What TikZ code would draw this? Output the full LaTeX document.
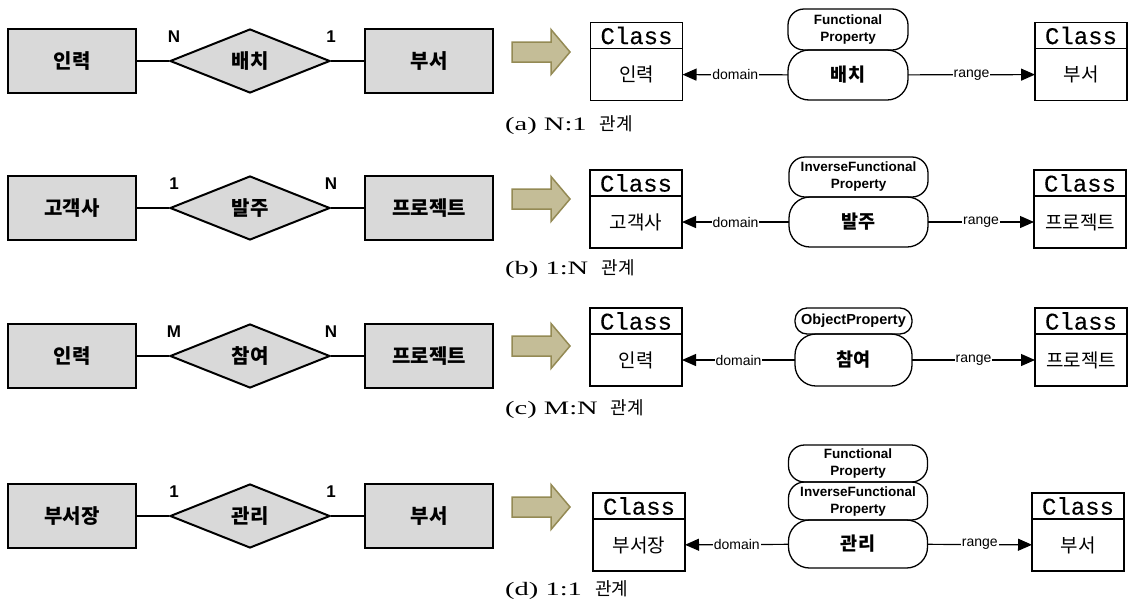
\documentclass[tikz,border=0pt]{standalone}
\usepackage{fontspec}
\setmainfont{Liberation Serif}
\newfontfamily\krfont{Noto Sans CJK KR}
\newfontfamily\arialfont{Liberation Sans}
\newfontfamily\classfont[FakeBold=0.25]{Liberation Mono}
\newfontfamily\capfont[FakeStretch=1.5]{Liberation Serif}
\usepackage{tikz}
\usetikzlibrary{positioning,shapes.geometric,arrows.meta}
\definecolor{ergray}{RGB}{217,217,217}
\definecolor{arrowfill}{RGB}{196,189,151}
\definecolor{arrowline}{RGB}{148,138,84}

\begin{document}
\begin{tikzpicture}[x=1pt, y=-1pt,
        entity/.style={draw, line width=2pt, fill=ergray, minimum width=128pt, minimum height=64pt, inner sep=0pt, font=\krfont\bfseries\fontsize{20}{24}\selectfont},
        relship/.style={diamond, draw, line width=2pt, fill=ergray, aspect=2.5, minimum width=160pt, minimum height=64pt, inner sep=0pt, font=\krfont\bfseries\fontsize{20}{24}\selectfont},
        card/.style={inner sep=0pt, font=\arialfont\bfseries\fontsize{17}{17}\selectfont},
        erline/.style={line width=2pt},
        bigarrow/.style={fill=arrowfill, draw=arrowline, line width=1.5pt},
        clshead/.style={draw, line width=1.3pt, outer sep=0pt, minimum width=92pt, minimum height=26pt, inner sep=0pt, font=\classfont\fontsize{24}{24}\selectfont},
        clsbody/.style={draw, line width=1.3pt, outer sep=0pt, minimum width=92pt, minimum height=52pt, inner sep=0pt, font=\krfont\fontsize{19}{20}\selectfont},
        prop/.style={draw, rounded corners=21pt, line width=1.3pt, outer sep=0pt, minimum height=50pt, inner sep=0pt, font=\krfont\bfseries\fontsize{18.5}{20}\selectfont},
        proptype/.style={draw, rounded corners=16pt, line width=1.3pt, outer sep=0pt, inner sep=0pt, align=center, font=\arialfont\bfseries\fontsize{13.5}{17}\selectfont},
        link/.style={line width=1.2pt, -{Triangle[length=14pt,width=12pt]}},
        role/.style={fill=white, inner sep=1pt, font=\arialfont\fontsize{14}{14}\selectfont},
        caption/.style={anchor=west, inner sep=0pt, font=\capfont\fontsize{19}{19}\selectfont}]
        \useasboundingbox (0,0) rectangle (1131,603);

        % (a) N:1
        \node[entity] (inA) at (72,61) {인력};
        \node[relship] (baechi) at (250,61) {배치};
        \node[entity] (buA) at (429,61) {부서};
        \draw[erline] (inA) -- (baechi) -- (buA);
        \node[card] (cardA1) at ([xshift=5pt,yshift=24pt]baechi.west) {N};
        \node[card] (cardA2) at ([yshift=24pt]baechi.east) {1};
        \draw[bigarrow] (512,42) -- (551,42) -- (551,29.5) -- (570,52) -- (551,74.5) -- (551,62) -- (512,62) -- cycle;
        \node[clsbody] (clsInA) at (636.5,74.5) {인력};
        \node[clshead, above=0pt of clsInA] (hdInA) {Class};
        \node[prop, minimum width=120pt] (pBaechi) at (848,75) {배치};
        \node[proptype, minimum width=120pt, minimum height=41pt, above=0pt of pBaechi] (tBaechi) {Functional\\Property};
        \node[clsbody] (clsBuA) at (1081,74.5) {부서};
        \node[clshead, above=0pt of clsBuA] (hdBuA) {Class};
        \draw[link] (pBaechi) -- node[role] {domain} (clsInA);
        \draw[link] (pBaechi) -- node[role] {range} (clsBuA);
        \node[caption] (capA) at (505,125) {(a) N:1\hspace{6pt} {\krfont\fontsize{18}{18}\selectfont 관계}};

        % (b) 1:N
        \node[entity] (gogaek) at (72,208) {고객사};
        \node[relship] (balju) at (250,208) {발주};
        \node[entity] (projB) at (429,208) {프로젝트};
        \draw[erline] (gogaek) -- (balju) -- (projB);
        \node[card] (cardB1) at ([xshift=5pt,yshift=24pt]balju.west) {1};
        \node[card] (cardB2) at ([yshift=24pt]balju.east) {N};
        \draw[bigarrow] (512,189) -- (551,189) -- (551,176.5) -- (570,199) -- (551,221.5) -- (551,209) -- (512,209) -- cycle;
        \node[clsbody] (clsGogaek) at (636,222) {고객사};
        \node[clshead, above=0pt of clsGogaek] (hdGogaek) {Class};
        \node[prop, minimum width=139pt] (pBalju) at (858.5,222) {발주};
        \node[proptype, minimum width=139pt, minimum height=40pt, above=0pt of pBalju] (tBalju) {InverseFunctional\\Property};
        \node[clsbody] (clsProjB) at (1080,222) {프로젝트};
        \node[clshead, above=0pt of clsProjB] (hdProjB) {Class};
        \draw[link] (pBalju) -- node[role] {domain} (clsGogaek);
        \draw[link] (pBalju) -- node[role] {range} (clsProjB);
        \node[caption] (capB) at (505,269) {(b) 1:N\hspace{6pt} {\krfont\fontsize{18}{18}\selectfont 관계}};

        % (c) M:N
        \node[entity] (inC) at (72,356) {인력};
        \node[relship] (chamyeo) at (250,356) {참여};
        \node[entity] (projC) at (429,356) {프로젝트};
        \draw[erline] (inC) -- (chamyeo) -- (projC);
        \node[card] (cardC1) at ([xshift=5pt,yshift=24pt]chamyeo.west) {M};
        \node[card] (cardC2) at ([yshift=24pt]chamyeo.east) {N};
        \draw[bigarrow] (512,336) -- (551,336) -- (551,323.5) -- (570,346) -- (551,368.5) -- (551,356) -- (512,356) -- cycle;
        \node[clsbody] (clsInC) at (636,360) {인력};
        \node[clshead, above=0pt of clsInC] (hdInC) {Class};
        \node[prop, minimum width=117pt, minimum height=52pt] (pChamyeo) at (853.5,360) {참여};
        \node[proptype, rounded corners=12pt, minimum width=117pt, minimum height=26pt, above=0pt of pChamyeo, font=\arialfont\bfseries\fontsize{14.5}{17}\selectfont] (tChamyeo) {ObjectProperty};
        \node[clsbody] (clsProjC) at (1081,360) {프로젝트};
        \node[clshead, above=0pt of clsProjC] (hdProjC) {Class};
        \draw[link] (pChamyeo) -- node[role] {domain} (clsInC);
        \draw[link] (pChamyeo) -- node[role] {range} (clsProjC);
        \node[caption] (capC) at (505,409) {(c) M:N\hspace{6pt} {\krfont\fontsize{18}{18}\selectfont 관계}};

        % (d) 1:1
        \node[entity] (bujang) at (72,516) {부서장};
        \node[relship] (gwanri) at (250,516) {관리};
        \node[entity] (buD) at (429,516) {부서};
        \draw[erline] (bujang) -- (gwanri) -- (buD);
        \node[card] (cardD1) at ([xshift=5pt,yshift=24pt]gwanri.west) {1};
        \node[card] (cardD2) at ([yshift=24pt]gwanri.east) {1};
        \draw[bigarrow] (512,497) -- (551,497) -- (551,484.5) -- (570,507) -- (551,529.5) -- (551,517) -- (512,517) -- cycle;
        \node[clsbody] (clsBujang) at (639,545) {부서장};
        \node[clshead, above=0pt of clsBujang] (hdBujang) {Class};
        \node[prop, minimum width=139pt, minimum height=48pt] (pGwanri) at (858,544) {관리};
        \node[proptype, minimum width=139pt, minimum height=38pt, above=0pt of pGwanri] (tGwanriInv) {InverseFunctional\\Property};
        \node[proptype, minimum width=139pt, minimum height=37pt, above=0pt of tGwanriInv] (tGwanriFn) {Functional\\Property};
        \node[clsbody] (clsBuD) at (1078,545) {부서};
        \node[clshead, above=0pt of clsBuD] (hdBuD) {Class};
        \draw[link] (pGwanri) -- node[role] {domain} (clsBujang);
        \draw[link] (pGwanri) -- node[role] {range} (clsBuD);
        \node[caption] (capD) at (505,590) {(d) 1:1\hspace{6pt} {\krfont\fontsize{18}{18}\selectfont 관계}};
    \end{tikzpicture}
\end{document}
